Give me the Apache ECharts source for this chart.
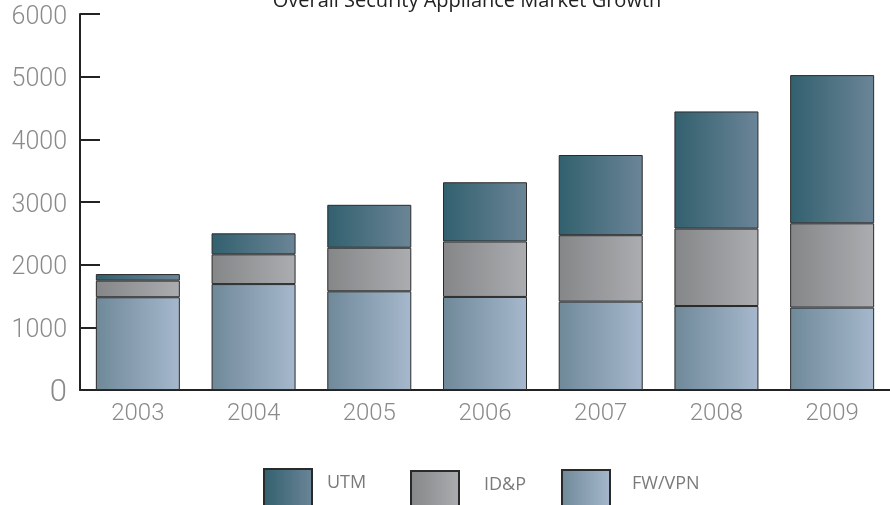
<!DOCTYPE html>
<html>
<head>
<meta charset="utf-8">
<script src="https://cdn.jsdelivr.net/npm/echarts@6/dist/echarts.min.js"></script>
<style>
html,body{margin:0;padding:0;background:#fff;}
#chart{width:890px;height:505px;}
</style>
</head>
<body>
<div id="chart"></div>
<script>
var titleText = 'Overall Security Appliance Market Growth';
var categories = ['2003', '2004', '2005', '2006', '2007', '2008', '2009'];
var fwvpn = [1480, 1690, 1575, 1485, 1410, 1340, 1315];
var idp   = [265, 475, 695, 885, 1060, 1235, 1345];
var utm   = [105, 335, 685, 945, 1280, 1870, 2365];
var yTicks = [0, 1000, 2000, 3000, 4000, 5000, 6000];

function grad(c0, c1) {
  return new echarts.graphic.LinearGradient(0, 0, 1, 0, [
    {offset: 0, color: c0}, {offset: 1, color: c1}
  ]);
}
var border = {borderColor: '#2a2a2a', borderWidth: 1};

var chart = echarts.init(document.getElementById('chart'));
var labelFont = {fontFamily: 'Roboto', fontWeight: 300, color: '#8a8a8a', fontSize: 24};
var legendText = {fontFamily: 'Open Sans', fontSize: 18, lineHeight: 20, color: '#7a7a7a'};
function legendFmt(n) { return n + '\n '; }
chart.setOption({
  animation: false,
  title: {
    text: titleText, left: 462, top: -14, textAlign: 'center',
    textStyle: {fontFamily: 'Open Sans', fontWeight: 'normal', fontSize: 20, color: '#222'}
  },
  grid: {left: 80, top: 14, width: 816, height: 376},
  legend: [
    {data: ['UTM'], left: 263, top: 468, padding: 0, itemWidth: 48, itemHeight: 48, icon: 'rect',
     formatter: legendFmt, textStyle: Object.assign({padding: [0, 0, 0, 10]}, legendText)},
    {data: ['ID&P'], left: 410, top: 470, padding: 0, itemWidth: 48, itemHeight: 48, icon: 'rect',
     formatter: legendFmt, textStyle: Object.assign({padding: [0, 0, 0, 20]}, legendText)},
    {data: ['FW/VPN'], left: 561, top: 469, padding: 0, itemWidth: 48, itemHeight: 48, icon: 'rect',
     formatter: legendFmt, textStyle: Object.assign({padding: [0, 0, 0, 17]}, legendText)}
  ],
  xAxis: {
    type: 'category', data: categories,
    axisLine: {lineStyle: {color: '#222', width: 2}},
    axisTick: {inside: true, length: 8, lineStyle: {color: '#222', width: 2}},
    axisLabel: Object.assign({margin: 12}, labelFont)
  },
  yAxis: {
    type: 'value', min: 0, max: 6000, interval: 1000,
    splitLine: {show: false},
    axisLine: {show: true, lineStyle: {color: '#222', width: 2}},
    axisTick: {show: true, inside: true, length: 20, lineStyle: {color: '#222', width: 2}},
    axisLabel: Object.assign({
      margin: 13,
      padding: [7, 0, 0, 0],
      formatter: function (v) { return v === 0 ? '{z|0}' : String(v); },
      rich: {z: {fontFamily: 'Roboto', fontWeight: 300, color: '#8a8a8a', fontSize: 31}}
    }, labelFont, {fontSize: 25})
  },
  series: [
    {name: 'FW/VPN', type: 'bar', stack: 's', data: fwvpn, barWidth: 84,
     itemStyle: Object.assign({color: grad('#6f8999', '#a6b8cd')}, border)},
    {name: 'ID&P', type: 'bar', stack: 's', data: idp, barWidth: 84,
     itemStyle: Object.assign({color: grad('#858688', '#acadb0')}, border)},
    {name: 'UTM', type: 'bar', stack: 's', data: utm, barWidth: 84,
     itemStyle: Object.assign({color: grad('#32606e', '#6b8597')}, border)}
  ]
});
</script>
</body>
</html>
